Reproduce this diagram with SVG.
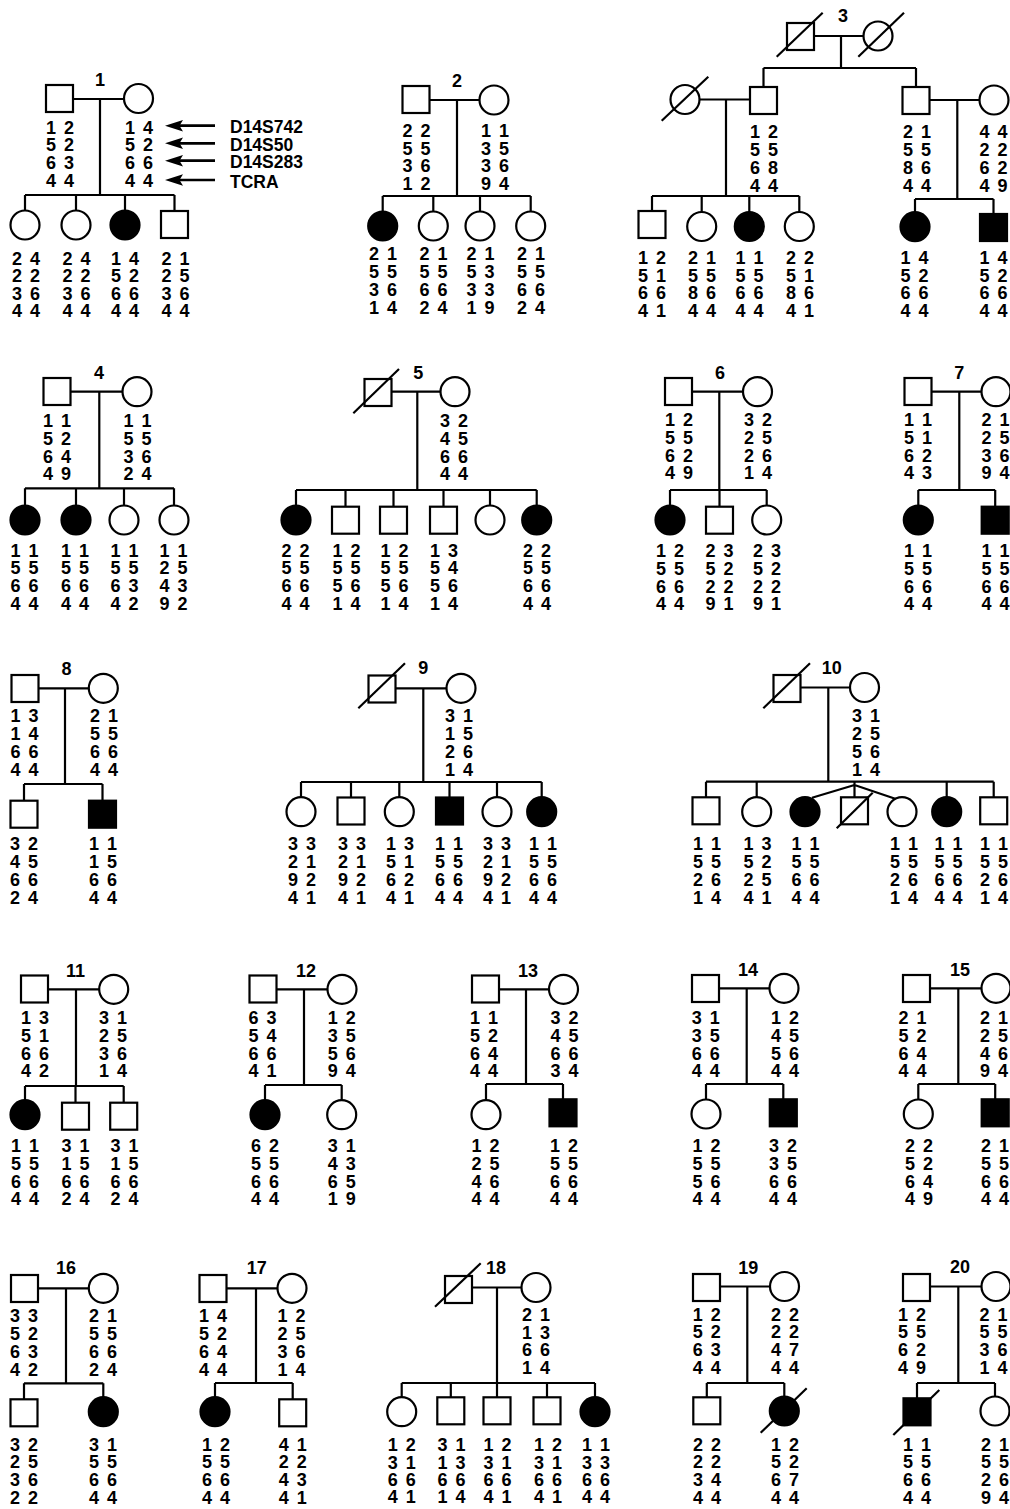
<svg xmlns="http://www.w3.org/2000/svg" width="1010" height="1509" viewBox="0 0 1010 1509">
<style>
.ln{stroke:#000;stroke-width:2.2;fill:none}
.o{fill:#fff;stroke:#000;stroke-width:2.2}
.f{fill:#000;stroke:#000;stroke-width:2.2}
.ar{stroke:#000;stroke-width:2.7;fill:none}
text{font-family:"Liberation Sans",Arial,Helvetica,sans-serif;font-weight:bold;font-size:18px;fill:#000}
.g{text-anchor:middle;word-spacing:3px}
.n{text-anchor:middle}
.lab{text-anchor:start;font-size:17.5px}
</style>
<defs>
<marker id="ah" markerUnits="userSpaceOnUse" markerWidth="20" markerHeight="12" viewBox="0 0 20 12" refX="11" refY="6" orient="auto"><path d="M18,6 L0,0.3 L3.5,6 L0,11.7 Z" fill="#000"/></marker>
</defs>
<rect width="1010" height="1509" fill="#fff"/>

<g id="connectors" class="ln">
<!-- 1 -->
<path d="M73,99H124M100,99V195M25,195H174.5M25,195V210.5M76,195V210.5M125,195V210.5M174.5,195V211"/>
<!-- 2 -->
<path d="M429.5,100H479.5M457,100V196M382.7,196H530.7M382.7,196V211.5M433.3,196V211.5M480,196V211.5M530.7,196V211.5"/>
<!-- 3 -->
<path d="M814,36H863.5M841,36V68M763.5,68H916M763.5,68V87M916,68V87M699.5,99.5H750M726,99.5V196M652,196H799.3M652,196V211M701.7,196V212M749.3,196V212M799.3,196V212M929.5,100H979.5M957.3,100V199M915,199H993.5M915,199V212.2M993.5,199V214"/>
<!-- 4 -->
<path d="M70.5,391.7H122.5M99.3,391.7V488.3M25,488.3H174M25,488.3V505.5M76,488.3V505.5M124,488.3V505.5M174,488.3V505.5"/>
<!-- 5 -->
<path d="M391.5,391.7H440.5M417.3,391.7V490M296,490H536.7M296,490V505.5M345.5,490V506.7M393.5,490V506.7M443.5,490V506.7M490,490V505.5M536.7,490V505.5"/>
<!-- 6 -->
<path d="M692,391.7H743M719.3,391.7V490M670,490H766.7M670,490V505.5M719.5,490V506.7M766.7,490V505.5"/>
<!-- 7 -->
<path d="M931.5,391.7H981.5M959.3,391.7V490M918.3,490H995.2M918.3,490V505.5M995.2,490V506.7"/>
<!-- 8 -->
<path d="M38.5,688.3H89M65,688.3V784M24,784H102.5M24,784V800.7M102.5,784V800.7"/>
<!-- 9 -->
<path d="M395.5,688.3H446.5M423.3,688.3V782M301,782H541.7M301,782V797.2M351,782V797.5M399.3,782V797.2M449.5,782V797.5M497,782V797.2M541.7,782V797.2"/>
<!-- 10 -->
<path d="M800.5,687.5H850M828.3,687.5V781.7M706,781.7H993.7M706,781.7V797.3M756.7,781.7V797.2M854.5,781.7V785M946.7,781.7V797.2M993.7,781.7V797.3M854.5,785L812,797.8M854.5,785V797.3M854.5,785L896,799"/>
<!-- 11 -->
<path d="M48,989.3H99.2M76,989.3V1086M25,1086H123.7M25,1086V1100.2M75.5,1086V1102.7M123.7,1086V1102.7"/>
<!-- 12 -->
<path d="M276.5,989.3H327.5M304,989.3V1085M265,1085H341.7M265,1085V1100.2M341.7,1085V1100.2"/>
<!-- 13 -->
<path d="M499,989.3H549M526,989.3V1084M486,1084H563M486,1084V1100.2M563,1084V1099.3"/>
<!-- 14 -->
<path d="M719,988.3H769.5M746.7,988.3V1084M706,1084H783.3M706,1084V1099.5M783.3,1084V1099.3"/>
<!-- 15 -->
<path d="M930,988.3H981.5M958.3,988.3V1084M918.3,1084H995.2M918.3,1084V1099.5M995.2,1084V1099.3"/>
<!-- 16 -->
<path d="M38.5,1288.3H89M66,1288.3V1383.3M24,1383.3H103.3M24,1383.3V1399.3M103.3,1383.3V1397.2"/>
<!-- 17 -->
<path d="M226.5,1288.3H277.5M256,1288.3V1383M215,1383H292.7M215,1383V1397.2M292.7,1383V1399.3"/>
<!-- 18 -->
<path d="M472,1287.5H521.5M497,1287.5V1383M401.7,1383H595M401.7,1383V1397.2M450.8,1383V1397.3M497,1383V1397.3M547,1383V1397.3M595,1383V1397.2"/>
<!-- 19 -->
<path d="M720,1286.5H770M747.3,1286.5V1383M706.8,1383H784.3M706.8,1383V1397.3M784.3,1383V1396.5"/>
<!-- 20 -->
<path d="M930,1286.5H981.5M958.3,1286.5V1383M917,1383H995M917,1383V1398.3M995,1383V1396.5"/>
</g>

<g id="locus-arrows" class="ar">
<path d="M215,125.7H172" marker-end="url(#ah)"/>
<path d="M215,143.3H172" marker-end="url(#ah)"/>
<path d="M215,160.7H172" marker-end="url(#ah)"/>
<path d="M215,180H172" marker-end="url(#ah)"/>
</g>
<g id="locus-labels">
<text class="lab" x="230" y="133">D14S742</text>
<text class="lab" x="230" y="150.5">D14S50</text>
<text class="lab" x="230" y="168">D14S283</text>
<text class="lab" x="230" y="188">TCRA</text>
</g>

<g id="family-numbers">
<text class="n" x="100" y="85.5">1</text>
<text class="n" x="457" y="87">2</text>
<text class="n" x="843" y="22">3</text>
<text class="n" x="99" y="379">4</text>
<text class="n" x="418.3" y="379">5</text>
<text class="n" x="720" y="379">6</text>
<text class="n" x="959.3" y="379">7</text>
<text class="n" x="66.5" y="674.5">8</text>
<text class="n" x="423.3" y="674">9</text>
<text class="n" x="831.7" y="674">10</text>
<text class="n" x="75.5" y="976.5">11</text>
<text class="n" x="306" y="976.5">12</text>
<text class="n" x="528" y="976.5">13</text>
<text class="n" x="748" y="975.5">14</text>
<text class="n" x="960" y="975.5">15</text>
<text class="n" x="66" y="1274">16</text>
<text class="n" x="256.7" y="1274">17</text>
<text class="n" x="496" y="1273.5">18</text>
<text class="n" x="748.3" y="1274">19</text>
<text class="n" x="960" y="1273">20</text>
</g>

<!-- Family 1 -->
<g id="f1-father"><rect class="o" x="46" y="85" width="27" height="27"/><text class="g" y="133.5"><tspan x="60">1 2</tspan><tspan x="60" dy="17.8">5 2</tspan><tspan x="60" dy="17.8">6 3</tspan><tspan x="60" dy="17.8">4 4</tspan></text></g>
<g id="f1-mother"><circle class="o" cx="138.5" cy="98.5" r="14.5"/><text class="g" y="133.5"><tspan x="139">1 4</tspan><tspan x="139" dy="17.8">5 2</tspan><tspan x="139" dy="17.8">6 6</tspan><tspan x="139" dy="17.8">4 4</tspan></text></g>
<g id="f1-c1"><circle class="o" cx="25" cy="225" r="14.5"/><text class="g" y="265"><tspan x="26">2 4</tspan><tspan x="26" dy="17.3">2 2</tspan><tspan x="26" dy="17.3">3 6</tspan><tspan x="26" dy="17.3">4 4</tspan></text></g>
<g id="f1-c2"><circle class="o" cx="76" cy="225" r="14.5"/><text class="g" y="265"><tspan x="76.5">2 4</tspan><tspan x="76.5" dy="17.3">2 2</tspan><tspan x="76.5" dy="17.3">3 6</tspan><tspan x="76.5" dy="17.3">4 4</tspan></text></g>
<g id="f1-c3"><circle class="f" cx="125" cy="225" r="14.5"/><text class="g" y="265"><tspan x="125">1 4</tspan><tspan x="125" dy="17.3">5 2</tspan><tspan x="125" dy="17.3">6 6</tspan><tspan x="125" dy="17.3">4 4</tspan></text></g>
<g id="f1-c4"><rect class="o" x="161" y="211" width="27" height="27"/><text class="g" y="265"><tspan x="175.5">2 1</tspan><tspan x="175.5" dy="17.3">2 5</tspan><tspan x="175.5" dy="17.3">3 6</tspan><tspan x="175.5" dy="17.3">4 4</tspan></text></g>

<!-- Family 2 -->
<g id="f2-father"><rect class="o" x="402.5" y="86" width="27" height="27"/><text class="g" y="136.8"><tspan x="416.5">2 2</tspan><tspan x="416.5" dy="17.8">5 5</tspan><tspan x="416.5" dy="17.8">3 6</tspan><tspan x="416.5" dy="17.8">1 2</tspan></text></g>
<g id="f2-mother"><circle class="o" cx="494" cy="100" r="14.5"/><text class="g" y="136.8"><tspan x="495">1 1</tspan><tspan x="495" dy="17.8">3 5</tspan><tspan x="495" dy="17.8">3 6</tspan><tspan x="495" dy="17.8">9 4</tspan></text></g>
<g id="f2-c1"><circle class="f" cx="382.7" cy="226" r="14.5"/><text class="g" y="260.4"><tspan x="383">2 1</tspan><tspan x="383" dy="17.8">5 5</tspan><tspan x="383" dy="17.8">3 6</tspan><tspan x="383" dy="17.8">1 4</tspan></text></g>
<g id="f2-c2"><circle class="o" cx="433.3" cy="226" r="14.5"/><text class="g" y="260.4"><tspan x="433.5">2 1</tspan><tspan x="433.5" dy="17.8">5 5</tspan><tspan x="433.5" dy="17.8">6 6</tspan><tspan x="433.5" dy="17.8">2 4</tspan></text></g>
<g id="f2-c3"><circle class="o" cx="480" cy="226" r="14.5"/><text class="g" y="260.4"><tspan x="480.5">2 1</tspan><tspan x="480.5" dy="17.8">5 3</tspan><tspan x="480.5" dy="17.8">3 3</tspan><tspan x="480.5" dy="17.8">1 9</tspan></text></g>
<g id="f2-c4"><circle class="o" cx="530.7" cy="226" r="14.5"/><text class="g" y="260.4"><tspan x="531">2 1</tspan><tspan x="531" dy="17.8">5 5</tspan><tspan x="531" dy="17.8">6 6</tspan><tspan x="531" dy="17.8">2 4</tspan></text></g>

<!-- Family 3 -->
<g id="f3-I1"><rect class="o" x="787" y="23" width="27" height="27"/><line class="ln" x1="776.7" y1="56.7" x2="822.7" y2="12.7"/></g>
<g id="f3-I2"><circle class="o" cx="878" cy="36" r="14.5"/><line class="ln" x1="858.3" y1="56.7" x2="904" y2="12.7"/></g>
<g id="f3-II1"><circle class="o" cx="685" cy="99.5" r="14.5"/><line class="ln" x1="661.7" y1="120.7" x2="708.3" y2="76.7"/></g>
<g id="f3-II2"><rect class="o" x="750" y="87" width="27" height="27"/><text class="g" y="138.4"><tspan x="764">1 2</tspan><tspan x="764" dy="17.8">5 5</tspan><tspan x="764" dy="17.8">6 8</tspan><tspan x="764" dy="17.8">4 4</tspan></text></g>
<g id="f3-II3"><rect class="o" x="902.5" y="87" width="27" height="27"/><text class="g" y="138.4"><tspan x="917">2 1</tspan><tspan x="917" dy="17.8">5 5</tspan><tspan x="917" dy="17.8">8 6</tspan><tspan x="917" dy="17.8">4 4</tspan></text></g>
<g id="f3-II4"><circle class="o" cx="994" cy="100" r="14.5"/><text class="g" y="138.4"><tspan x="993.5">4 4</tspan><tspan x="993.5" dy="17.8">2 2</tspan><tspan x="993.5" dy="17.8">6 2</tspan><tspan x="993.5" dy="17.8">4 9</tspan></text></g>
<g id="f3-III1"><rect class="o" x="638.5" y="211" width="27" height="27"/><text class="g" y="264"><tspan x="652">1 2</tspan><tspan x="652" dy="17.5">5 1</tspan><tspan x="652" dy="17.5">6 6</tspan><tspan x="652" dy="17.5">4 1</tspan></text></g>
<g id="f3-III2"><circle class="o" cx="701.7" cy="226.5" r="14.5"/><text class="g" y="264"><tspan x="702">2 1</tspan><tspan x="702" dy="17.5">5 5</tspan><tspan x="702" dy="17.5">8 6</tspan><tspan x="702" dy="17.5">4 4</tspan></text></g>
<g id="f3-III3"><circle class="f" cx="749.3" cy="226.5" r="14.5"/><text class="g" y="264"><tspan x="749.5">1 1</tspan><tspan x="749.5" dy="17.5">5 5</tspan><tspan x="749.5" dy="17.5">6 6</tspan><tspan x="749.5" dy="17.5">4 4</tspan></text></g>
<g id="f3-III4"><circle class="o" cx="799.3" cy="226.5" r="14.5"/><text class="g" y="264"><tspan x="800">2 2</tspan><tspan x="800" dy="17.5">5 1</tspan><tspan x="800" dy="17.5">8 6</tspan><tspan x="800" dy="17.5">4 1</tspan></text></g>
<g id="f3-III5"><circle class="f" cx="915" cy="226.7" r="14.5"/><text class="g" y="264"><tspan x="914.5">1 4</tspan><tspan x="914.5" dy="17.5">5 2</tspan><tspan x="914.5" dy="17.5">6 6</tspan><tspan x="914.5" dy="17.5">4 4</tspan></text></g>
<g id="f3-III6"><rect class="f" x="980" y="214" width="27" height="27"/><text class="g" y="264"><tspan x="993.5">1 4</tspan><tspan x="993.5" dy="17.5">5 2</tspan><tspan x="993.5" dy="17.5">6 6</tspan><tspan x="993.5" dy="17.5">4 4</tspan></text></g>

<!-- Family 4 -->
<g id="f4-father"><rect class="o" x="43.5" y="378" width="27" height="27"/><text class="g" y="427"><tspan x="57">1 1</tspan><tspan x="57" dy="17.8">5 2</tspan><tspan x="57" dy="17.8">6 4</tspan><tspan x="57" dy="17.8">4 9</tspan></text></g>
<g id="f4-mother"><circle class="o" cx="137" cy="391.7" r="14.5"/><text class="g" y="427"><tspan x="137.5">1 1</tspan><tspan x="137.5" dy="17.8">5 5</tspan><tspan x="137.5" dy="17.8">3 6</tspan><tspan x="137.5" dy="17.8">2 4</tspan></text></g>
<g id="f4-c1"><circle class="f" cx="25" cy="520" r="14.5"/><text class="g" y="556.5"><tspan x="24.5">1 1</tspan><tspan x="24.5" dy="17.8">5 5</tspan><tspan x="24.5" dy="17.8">6 6</tspan><tspan x="24.5" dy="17.8">4 4</tspan></text></g>
<g id="f4-c2"><circle class="f" cx="76" cy="520" r="14.5"/><text class="g" y="556.5"><tspan x="75">1 1</tspan><tspan x="75" dy="17.8">5 5</tspan><tspan x="75" dy="17.8">6 6</tspan><tspan x="75" dy="17.8">4 4</tspan></text></g>
<g id="f4-c3"><circle class="o" cx="124" cy="520" r="14.5"/><text class="g" y="556.5"><tspan x="124.5">1 1</tspan><tspan x="124.5" dy="17.8">5 5</tspan><tspan x="124.5" dy="17.8">6 3</tspan><tspan x="124.5" dy="17.8">4 2</tspan></text></g>
<g id="f4-c4"><circle class="o" cx="174" cy="520" r="14.5"/><text class="g" y="556.5"><tspan x="173.5">1 1</tspan><tspan x="173.5" dy="17.8">2 5</tspan><tspan x="173.5" dy="17.8">4 3</tspan><tspan x="173.5" dy="17.8">9 2</tspan></text></g>

<!-- Family 5 -->
<g id="f5-father"><rect class="o" x="364.5" y="379" width="27" height="27"/><line class="ln" x1="353.3" y1="413.3" x2="399" y2="369"/></g>
<g id="f5-mother"><circle class="o" cx="455" cy="391.7" r="14.5"/><text class="g" y="427"><tspan x="454">3 2</tspan><tspan x="454" dy="17.8">4 5</tspan><tspan x="454" dy="17.8">6 6</tspan><tspan x="454" dy="17.8">4 4</tspan></text></g>
<g id="f5-c1"><circle class="f" cx="296" cy="520" r="14.5"/><text class="g" y="556.5"><tspan x="295.5">2 2</tspan><tspan x="295.5" dy="17.8">5 5</tspan><tspan x="295.5" dy="17.8">6 6</tspan><tspan x="295.5" dy="17.8">4 4</tspan></text></g>
<g id="f5-c2"><rect class="o" x="332" y="506.7" width="27" height="27"/><text class="g" y="556.5"><tspan x="346.5">1 2</tspan><tspan x="346.5" dy="17.8">5 5</tspan><tspan x="346.5" dy="17.8">5 6</tspan><tspan x="346.5" dy="17.8">1 4</tspan></text></g>
<g id="f5-c3"><rect class="o" x="380" y="506.7" width="27" height="27"/><text class="g" y="556.5"><tspan x="394.5">1 2</tspan><tspan x="394.5" dy="17.8">5 5</tspan><tspan x="394.5" dy="17.8">5 6</tspan><tspan x="394.5" dy="17.8">1 4</tspan></text></g>
<g id="f5-c4"><rect class="o" x="430" y="506.7" width="27" height="27"/><text class="g" y="556.5"><tspan x="444">1 3</tspan><tspan x="444" dy="17.8">5 4</tspan><tspan x="444" dy="17.8">5 6</tspan><tspan x="444" dy="17.8">1 4</tspan></text></g>
<g id="f5-c5"><circle class="o" cx="490" cy="520" r="14.5"/></g>
<g id="f5-c6"><circle class="f" cx="536.7" cy="520" r="14.5"/><text class="g" y="556.5"><tspan x="537">2 2</tspan><tspan x="537" dy="17.8">5 5</tspan><tspan x="537" dy="17.8">6 6</tspan><tspan x="537" dy="17.8">4 4</tspan></text></g>

<!-- Family 6 -->
<g id="f6-father"><rect class="o" x="665" y="378" width="27" height="27"/><text class="g" y="426"><tspan x="679">1 2</tspan><tspan x="679" dy="17.8">5 5</tspan><tspan x="679" dy="17.8">6 2</tspan><tspan x="679" dy="17.8">4 9</tspan></text></g>
<g id="f6-mother"><circle class="o" cx="757.5" cy="391.7" r="14.5"/><text class="g" y="426"><tspan x="758">3 2</tspan><tspan x="758" dy="17.8">2 5</tspan><tspan x="758" dy="17.8">2 6</tspan><tspan x="758" dy="17.8">1 4</tspan></text></g>
<g id="f6-c1"><circle class="f" cx="670" cy="520" r="14.5"/><text class="g" y="557"><tspan x="670">1 2</tspan><tspan x="670" dy="17.8">5 5</tspan><tspan x="670" dy="17.8">6 6</tspan><tspan x="670" dy="17.8">4 4</tspan></text></g>
<g id="f6-c2"><rect class="o" x="706" y="506.7" width="27" height="27"/><text class="g" y="557"><tspan x="719.5">2 3</tspan><tspan x="719.5" dy="17.8">5 2</tspan><tspan x="719.5" dy="17.8">2 2</tspan><tspan x="719.5" dy="17.8">9 1</tspan></text></g>
<g id="f6-c3"><circle class="o" cx="766.7" cy="520" r="14.5"/><text class="g" y="557"><tspan x="767">2 3</tspan><tspan x="767" dy="17.8">5 2</tspan><tspan x="767" dy="17.8">2 2</tspan><tspan x="767" dy="17.8">9 1</tspan></text></g>

<!-- Family 7 -->
<g id="f7-father"><rect class="o" x="904.5" y="378" width="27" height="27"/><text class="g" y="426"><tspan x="918">1 1</tspan><tspan x="918" dy="17.8">5 1</tspan><tspan x="918" dy="17.8">6 2</tspan><tspan x="918" dy="17.8">4 3</tspan></text></g>
<g id="f7-mother"><circle class="o" cx="996" cy="391.7" r="14.5"/><text class="g" y="426"><tspan x="995.5">2 1</tspan><tspan x="995.5" dy="17.8">2 5</tspan><tspan x="995.5" dy="17.8">3 6</tspan><tspan x="995.5" dy="17.8">9 4</tspan></text></g>
<g id="f7-c1"><circle class="f" cx="918.3" cy="520" r="14.5"/><text class="g" y="557"><tspan x="918">1 1</tspan><tspan x="918" dy="17.8">5 5</tspan><tspan x="918" dy="17.8">6 6</tspan><tspan x="918" dy="17.8">4 4</tspan></text></g>
<g id="f7-c2"><rect class="f" x="981.7" y="506.7" width="27" height="27"/><text class="g" y="557"><tspan x="995.5">1 1</tspan><tspan x="995.5" dy="17.8">5 5</tspan><tspan x="995.5" dy="17.8">6 6</tspan><tspan x="995.5" dy="17.8">4 4</tspan></text></g>

<!-- Family 8 -->
<g id="f8-father"><rect class="o" x="11.5" y="675" width="27" height="27"/><text class="g" y="722.2"><tspan x="24.5">1 3</tspan><tspan x="24.5" dy="17.8">1 4</tspan><tspan x="24.5" dy="17.8">6 6</tspan><tspan x="24.5" dy="17.8">4 4</tspan></text></g>
<g id="f8-mother"><circle class="o" cx="103.3" cy="688.3" r="14.5"/><text class="g" y="722.2"><tspan x="104">2 1</tspan><tspan x="104" dy="17.8">5 5</tspan><tspan x="104" dy="17.8">6 6</tspan><tspan x="104" dy="17.8">4 4</tspan></text></g>
<g id="f8-c1"><rect class="o" x="10.5" y="800.7" width="27" height="27"/><text class="g" y="850.3"><tspan x="24">3 2</tspan><tspan x="24" dy="17.8">4 5</tspan><tspan x="24" dy="17.8">6 6</tspan><tspan x="24" dy="17.8">2 4</tspan></text></g>
<g id="f8-c2"><rect class="f" x="89" y="800.7" width="27" height="27"/><text class="g" y="850.3"><tspan x="103">1 1</tspan><tspan x="103" dy="17.8">1 5</tspan><tspan x="103" dy="17.8">6 6</tspan><tspan x="103" dy="17.8">4 4</tspan></text></g>

<!-- Family 9 -->
<g id="f9-father"><rect class="o" x="368.5" y="675.5" width="27" height="27"/><line class="ln" x1="358.3" y1="708.3" x2="405" y2="663.3"/></g>
<g id="f9-mother"><circle class="o" cx="461" cy="688.3" r="14.5"/><text class="g" y="722.2"><tspan x="459">3 1</tspan><tspan x="459" dy="17.8">1 5</tspan><tspan x="459" dy="17.8">2 6</tspan><tspan x="459" dy="17.8">1 4</tspan></text></g>
<g id="f9-c1"><circle class="o" cx="301" cy="811.7" r="14.5"/><text class="g" y="850.3"><tspan x="302">3 3</tspan><tspan x="302" dy="17.8">2 1</tspan><tspan x="302" dy="17.8">9 2</tspan><tspan x="302" dy="17.8">4 1</tspan></text></g>
<g id="f9-c2"><rect class="o" x="337.5" y="797.5" width="27" height="27"/><text class="g" y="850.3"><tspan x="352">3 3</tspan><tspan x="352" dy="17.8">2 1</tspan><tspan x="352" dy="17.8">9 2</tspan><tspan x="352" dy="17.8">4 1</tspan></text></g>
<g id="f9-c3"><circle class="o" cx="399.3" cy="811.7" r="14.5"/><text class="g" y="850.3"><tspan x="400">1 3</tspan><tspan x="400" dy="17.8">5 1</tspan><tspan x="400" dy="17.8">6 2</tspan><tspan x="400" dy="17.8">4 1</tspan></text></g>
<g id="f9-c4"><rect class="f" x="436" y="797.5" width="27" height="27"/><text class="g" y="850.3"><tspan x="449">1 1</tspan><tspan x="449" dy="17.8">5 5</tspan><tspan x="449" dy="17.8">6 6</tspan><tspan x="449" dy="17.8">4 4</tspan></text></g>
<g id="f9-c5"><circle class="o" cx="497" cy="811.7" r="14.5"/><text class="g" y="850.3"><tspan x="497">3 3</tspan><tspan x="497" dy="17.8">2 1</tspan><tspan x="497" dy="17.8">9 2</tspan><tspan x="497" dy="17.8">4 1</tspan></text></g>
<g id="f9-c6"><circle class="f" cx="541.7" cy="811.7" r="14.5"/><text class="g" y="850.3"><tspan x="543">1 1</tspan><tspan x="543" dy="17.8">5 5</tspan><tspan x="543" dy="17.8">6 6</tspan><tspan x="543" dy="17.8">4 4</tspan></text></g>

<!-- Family 10 -->
<g id="f10-father"><rect class="o" x="773.5" y="675" width="27" height="27"/><line class="ln" x1="763.3" y1="708.3" x2="810" y2="663.3"/></g>
<g id="f10-mother"><circle class="o" cx="864.5" cy="687.5" r="14.5"/><text class="g" y="722.2"><tspan x="866">3 1</tspan><tspan x="866" dy="17.8">2 5</tspan><tspan x="866" dy="17.8">5 6</tspan><tspan x="866" dy="17.8">1 4</tspan></text></g>
<g id="f10-c1"><rect class="o" x="692.5" y="797.3" width="27" height="27"/><text class="g" y="850.3"><tspan x="707">1 1</tspan><tspan x="707" dy="17.8">5 5</tspan><tspan x="707" dy="17.8">2 6</tspan><tspan x="707" dy="17.8">1 4</tspan></text></g>
<g id="f10-c2"><circle class="o" cx="756.7" cy="811.7" r="14.5"/><text class="g" y="850.3"><tspan x="757.5">1 3</tspan><tspan x="757.5" dy="17.8">5 2</tspan><tspan x="757.5" dy="17.8">2 5</tspan><tspan x="757.5" dy="17.8">4 1</tspan></text></g>
<g id="f10-c3"><circle class="f" cx="805" cy="811.7" r="14.5"/><text class="g" y="850.3"><tspan x="805.5">1 1</tspan><tspan x="805.5" dy="17.8">5 5</tspan><tspan x="805.5" dy="17.8">6 6</tspan><tspan x="805.5" dy="17.8">4 4</tspan></text></g>
<g id="f10-c4"><rect class="o" x="841" y="797.3" width="27" height="27"/><line class="ln" x1="836.7" y1="828.3" x2="872.7" y2="792.7"/></g>
<g id="f10-c5"><circle class="o" cx="902" cy="811.7" r="14.5"/><text class="g" y="850.3"><tspan x="904">1 1</tspan><tspan x="904" dy="17.8">5 5</tspan><tspan x="904" dy="17.8">2 6</tspan><tspan x="904" dy="17.8">1 4</tspan></text></g>
<g id="f10-c6"><circle class="f" cx="946.7" cy="811.7" r="14.5"/><text class="g" y="850.3"><tspan x="948.5">1 1</tspan><tspan x="948.5" dy="17.8">5 5</tspan><tspan x="948.5" dy="17.8">6 6</tspan><tspan x="948.5" dy="17.8">4 4</tspan></text></g>
<g id="f10-c7"><rect class="o" x="980.2" y="797.3" width="27" height="27"/><text class="g" y="850.3"><tspan x="994">1 1</tspan><tspan x="994" dy="17.8">5 5</tspan><tspan x="994" dy="17.8">2 6</tspan><tspan x="994" dy="17.8">1 4</tspan></text></g>

<!-- Family 11 -->
<g id="f11-father"><rect class="o" x="21" y="975.5" width="27" height="27"/><text class="g" y="1024"><tspan x="35">1 3</tspan><tspan x="35" dy="17.8">5 1</tspan><tspan x="35" dy="17.8">6 6</tspan><tspan x="35" dy="17.8">4 2</tspan></text></g>
<g id="f11-mother"><circle class="o" cx="113.7" cy="989.3" r="14.5"/><text class="g" y="1024"><tspan x="113">3 1</tspan><tspan x="113" dy="17.8">2 5</tspan><tspan x="113" dy="17.8">3 6</tspan><tspan x="113" dy="17.8">1 4</tspan></text></g>
<g id="f11-c1"><circle class="f" cx="25" cy="1114.7" r="14.5"/><text class="g" y="1152"><tspan x="25">1 1</tspan><tspan x="25" dy="17.8">5 5</tspan><tspan x="25" dy="17.8">6 6</tspan><tspan x="25" dy="17.8">4 4</tspan></text></g>
<g id="f11-c2"><rect class="o" x="62" y="1102.7" width="27" height="27"/><text class="g" y="1152"><tspan x="75.5">3 1</tspan><tspan x="75.5" dy="17.8">1 5</tspan><tspan x="75.5" dy="17.8">6 6</tspan><tspan x="75.5" dy="17.8">2 4</tspan></text></g>
<g id="f11-c3"><rect class="o" x="110.2" y="1102.7" width="27" height="27"/><text class="g" y="1152"><tspan x="124.5">3 1</tspan><tspan x="124.5" dy="17.8">1 5</tspan><tspan x="124.5" dy="17.8">6 6</tspan><tspan x="124.5" dy="17.8">2 4</tspan></text></g>

<!-- Family 12 -->
<g id="f12-father"><rect class="o" x="249.5" y="975.5" width="27" height="27"/><text class="g" y="1024"><tspan x="262.5">6 3</tspan><tspan x="262.5" dy="17.8">5 4</tspan><tspan x="262.5" dy="17.8">6 6</tspan><tspan x="262.5" dy="17.8">4 1</tspan></text></g>
<g id="f12-mother"><circle class="o" cx="342" cy="989.3" r="14.5"/><text class="g" y="1024"><tspan x="341.7">1 2</tspan><tspan x="341.7" dy="17.8">3 5</tspan><tspan x="341.7" dy="17.8">5 6</tspan><tspan x="341.7" dy="17.8">9 4</tspan></text></g>
<g id="f12-c1"><circle class="f" cx="265" cy="1114.7" r="14.5"/><text class="g" y="1152"><tspan x="265">6 2</tspan><tspan x="265" dy="17.8">5 5</tspan><tspan x="265" dy="17.8">6 6</tspan><tspan x="265" dy="17.8">4 4</tspan></text></g>
<g id="f12-c2"><circle class="o" cx="341.7" cy="1114.7" r="14.5"/><text class="g" y="1152"><tspan x="341.7">3 1</tspan><tspan x="341.7" dy="17.8">4 3</tspan><tspan x="341.7" dy="17.8">6 5</tspan><tspan x="341.7" dy="17.8">1 9</tspan></text></g>

<!-- Family 13 -->
<g id="f13-father"><rect class="o" x="472" y="975.5" width="27" height="27"/><text class="g" y="1024"><tspan x="484">1 1</tspan><tspan x="484" dy="17.8">5 2</tspan><tspan x="484" dy="17.8">6 4</tspan><tspan x="484" dy="17.8">4 4</tspan></text></g>
<g id="f13-mother"><circle class="o" cx="563.5" cy="989.3" r="14.5"/><text class="g" y="1024"><tspan x="564.5">3 2</tspan><tspan x="564.5" dy="17.8">4 5</tspan><tspan x="564.5" dy="17.8">6 6</tspan><tspan x="564.5" dy="17.8">3 4</tspan></text></g>
<g id="f13-c1"><circle class="o" cx="486" cy="1114.7" r="14.5"/><text class="g" y="1152"><tspan x="485.5">1 2</tspan><tspan x="485.5" dy="17.8">2 5</tspan><tspan x="485.5" dy="17.8">4 6</tspan><tspan x="485.5" dy="17.8">4 4</tspan></text></g>
<g id="f13-c2"><rect class="f" x="549.5" y="1099.3" width="27" height="27"/><text class="g" y="1152"><tspan x="564">1 2</tspan><tspan x="564" dy="17.8">5 5</tspan><tspan x="564" dy="17.8">6 6</tspan><tspan x="564" dy="17.8">4 4</tspan></text></g>

<!-- Family 14 -->
<g id="f14-father"><rect class="o" x="692" y="975" width="27" height="27"/><text class="g" y="1024"><tspan x="705.8">3 1</tspan><tspan x="705.8" dy="17.8">3 5</tspan><tspan x="705.8" dy="17.8">6 6</tspan><tspan x="705.8" dy="17.8">4 4</tspan></text></g>
<g id="f14-mother"><circle class="o" cx="784" cy="988.3" r="14.5"/><text class="g" y="1024"><tspan x="785">1 2</tspan><tspan x="785" dy="17.8">4 5</tspan><tspan x="785" dy="17.8">5 6</tspan><tspan x="785" dy="17.8">4 4</tspan></text></g>
<g id="f14-c1"><circle class="o" cx="706" cy="1114" r="14.5"/><text class="g" y="1152"><tspan x="706.5">1 2</tspan><tspan x="706.5" dy="17.8">5 5</tspan><tspan x="706.5" dy="17.8">5 6</tspan><tspan x="706.5" dy="17.8">4 4</tspan></text></g>
<g id="f14-c2"><rect class="f" x="769.8" y="1099.3" width="27" height="27"/><text class="g" y="1152"><tspan x="783">3 2</tspan><tspan x="783" dy="17.8">3 5</tspan><tspan x="783" dy="17.8">6 6</tspan><tspan x="783" dy="17.8">4 4</tspan></text></g>

<!-- Family 15 -->
<g id="f15-father"><rect class="o" x="903" y="975" width="27" height="27"/><text class="g" y="1024"><tspan x="912.5">2 1</tspan><tspan x="912.5" dy="17.8">5 2</tspan><tspan x="912.5" dy="17.8">6 4</tspan><tspan x="912.5" dy="17.8">4 4</tspan></text></g>
<g id="f15-mother"><circle class="o" cx="996" cy="988.3" r="14.5"/><text class="g" y="1024"><tspan x="994">2 1</tspan><tspan x="994" dy="17.8">2 5</tspan><tspan x="994" dy="17.8">4 6</tspan><tspan x="994" dy="17.8">9 4</tspan></text></g>
<g id="f15-c1"><circle class="o" cx="918.3" cy="1114" r="14.5"/><text class="g" y="1152"><tspan x="919">2 2</tspan><tspan x="919" dy="17.8">5 2</tspan><tspan x="919" dy="17.8">6 4</tspan><tspan x="919" dy="17.8">4 9</tspan></text></g>
<g id="f15-c2"><rect class="f" x="981.7" y="1099.3" width="27" height="27"/><text class="g" y="1152"><tspan x="995">2 1</tspan><tspan x="995" dy="17.8">5 5</tspan><tspan x="995" dy="17.8">6 6</tspan><tspan x="995" dy="17.8">4 4</tspan></text></g>

<!-- Family 16 -->
<g id="f16-father"><rect class="o" x="11" y="1275" width="27" height="27"/><text class="g" y="1322"><tspan x="24">3 3</tspan><tspan x="24" dy="17.9">5 2</tspan><tspan x="24" dy="17.9">6 3</tspan><tspan x="24" dy="17.9">4 2</tspan></text></g>
<g id="f16-mother"><circle class="o" cx="103.3" cy="1288.3" r="14.5"/><text class="g" y="1322"><tspan x="103">2 1</tspan><tspan x="103" dy="17.9">5 5</tspan><tspan x="103" dy="17.9">6 6</tspan><tspan x="103" dy="17.9">2 4</tspan></text></g>
<g id="f16-c1"><rect class="o" x="10.5" y="1399.3" width="27" height="27"/><text class="g" y="1450.5"><tspan x="24">3 2</tspan><tspan x="24" dy="17.8">2 5</tspan><tspan x="24" dy="17.8">3 6</tspan><tspan x="24" dy="17.8">2 2</tspan></text></g>
<g id="f16-c2"><circle class="f" cx="103.3" cy="1411.7" r="14.5"/><text class="g" y="1450.5"><tspan x="103">3 1</tspan><tspan x="103" dy="17.8">5 5</tspan><tspan x="103" dy="17.8">6 6</tspan><tspan x="103" dy="17.8">4 4</tspan></text></g>

<!-- Family 17 -->
<g id="f17-father"><rect class="o" x="199.5" y="1275" width="27" height="27"/><text class="g" y="1322"><tspan x="213">1 4</tspan><tspan x="213" dy="17.9">5 2</tspan><tspan x="213" dy="17.9">6 4</tspan><tspan x="213" dy="17.9">4 4</tspan></text></g>
<g id="f17-mother"><circle class="o" cx="292" cy="1288.3" r="14.5"/><text class="g" y="1322"><tspan x="291.5">1 2</tspan><tspan x="291.5" dy="17.9">2 5</tspan><tspan x="291.5" dy="17.9">3 6</tspan><tspan x="291.5" dy="17.9">1 4</tspan></text></g>
<g id="f17-c1"><circle class="f" cx="215" cy="1411.7" r="14.5"/><text class="g" y="1450.5"><tspan x="216">1 2</tspan><tspan x="216" dy="17.8">5 5</tspan><tspan x="216" dy="17.8">6 6</tspan><tspan x="216" dy="17.8">4 4</tspan></text></g>
<g id="f17-c2"><rect class="o" x="279.2" y="1399.3" width="27" height="27"/><text class="g" y="1450.5"><tspan x="292.7">4 1</tspan><tspan x="292.7" dy="17.8">2 2</tspan><tspan x="292.7" dy="17.8">4 3</tspan><tspan x="292.7" dy="17.8">4 1</tspan></text></g>

<!-- Family 18 -->
<g id="f18-father"><rect class="o" x="445" y="1276" width="27" height="27"/><line class="ln" x1="435" y1="1306.7" x2="480.7" y2="1263.3"/></g>
<g id="f18-mother"><circle class="o" cx="536" cy="1287.5" r="14.5"/><text class="g" y="1321.4"><tspan x="536">2 1</tspan><tspan x="536" dy="17.4">1 3</tspan><tspan x="536" dy="17.4">6 6</tspan><tspan x="536" dy="17.4">1 4</tspan></text></g>
<g id="f18-c1"><circle class="o" cx="401.7" cy="1411.7" r="14.5"/><text class="g" y="1451.4"><tspan x="401.7">1 2</tspan><tspan x="401.7" dy="17.2">3 1</tspan><tspan x="401.7" dy="17.2">6 6</tspan><tspan x="401.7" dy="17.2">4 1</tspan></text></g>
<g id="f18-c2"><rect class="o" x="437.3" y="1397.3" width="27" height="27"/><text class="g" y="1451.4"><tspan x="451.5">3 1</tspan><tspan x="451.5" dy="17.2">1 3</tspan><tspan x="451.5" dy="17.2">6 6</tspan><tspan x="451.5" dy="17.2">1 4</tspan></text></g>
<g id="f18-c3"><rect class="o" x="483.5" y="1397.3" width="27" height="27"/><text class="g" y="1451.4"><tspan x="497.5">1 2</tspan><tspan x="497.5" dy="17.2">3 1</tspan><tspan x="497.5" dy="17.2">6 6</tspan><tspan x="497.5" dy="17.2">4 1</tspan></text></g>
<g id="f18-c4"><rect class="o" x="533.5" y="1397.3" width="27" height="27"/><text class="g" y="1451.4"><tspan x="548">1 2</tspan><tspan x="548" dy="17.2">3 1</tspan><tspan x="548" dy="17.2">6 6</tspan><tspan x="548" dy="17.2">4 1</tspan></text></g>
<g id="f18-c5"><circle class="f" cx="595" cy="1411.7" r="14.5"/><text class="g" y="1451.4"><tspan x="596">1 1</tspan><tspan x="596" dy="17.2">3 3</tspan><tspan x="596" dy="17.2">6 6</tspan><tspan x="596" dy="17.2">4 4</tspan></text></g>

<!-- Family 19 -->
<g id="f19-father"><rect class="o" x="693" y="1274" width="27" height="27"/><text class="g" y="1320.5"><tspan x="706.7">1 2</tspan><tspan x="706.7" dy="17.9">5 2</tspan><tspan x="706.7" dy="17.9">6 3</tspan><tspan x="706.7" dy="17.9">4 4</tspan></text></g>
<g id="f19-mother"><circle class="o" cx="784.5" cy="1286.5" r="14.5"/><text class="g" y="1320.5"><tspan x="785">2 2</tspan><tspan x="785" dy="17.9">2 2</tspan><tspan x="785" dy="17.9">4 7</tspan><tspan x="785" dy="17.9">4 4</tspan></text></g>
<g id="f19-c1"><rect class="o" x="693.3" y="1397.3" width="27" height="27"/><text class="g" y="1450.5"><tspan x="707">2 2</tspan><tspan x="707" dy="17.8">2 2</tspan><tspan x="707" dy="17.8">3 4</tspan><tspan x="707" dy="17.8">4 4</tspan></text></g>
<g id="f19-c2"><circle class="f" cx="784.3" cy="1411" r="14.5"/><line class="ln" x1="760.7" y1="1432.7" x2="806.7" y2="1388.3"/><text class="g" y="1450.5"><tspan x="785">1 2</tspan><tspan x="785" dy="17.8">5 2</tspan><tspan x="785" dy="17.8">6 7</tspan><tspan x="785" dy="17.8">4 4</tspan></text></g>

<!-- Family 20 -->
<g id="f20-father"><rect class="o" x="903" y="1274" width="27" height="27"/><text class="g" y="1320.5"><tspan x="912">1 2</tspan><tspan x="912" dy="17.9">5 5</tspan><tspan x="912" dy="17.9">6 2</tspan><tspan x="912" dy="17.9">4 9</tspan></text></g>
<g id="f20-mother"><circle class="o" cx="996" cy="1286.5" r="14.5"/><text class="g" y="1320.5"><tspan x="993.5">2 1</tspan><tspan x="993.5" dy="17.9">5 5</tspan><tspan x="993.5" dy="17.9">3 6</tspan><tspan x="993.5" dy="17.9">1 4</tspan></text></g>
<g id="f20-c1"><rect class="f" x="903.5" y="1398.3" width="27" height="27"/><line class="ln" x1="893.3" y1="1435" x2="939.3" y2="1390"/><text class="g" y="1450.5"><tspan x="917">1 1</tspan><tspan x="917" dy="17.8">5 5</tspan><tspan x="917" dy="17.8">6 6</tspan><tspan x="917" dy="17.8">4 4</tspan></text></g>
<g id="f20-c2"><circle class="o" cx="995" cy="1411" r="14.5"/><text class="g" y="1450.5"><tspan x="995">2 1</tspan><tspan x="995" dy="17.8">5 5</tspan><tspan x="995" dy="17.8">2 6</tspan><tspan x="995" dy="17.8">9 4</tspan></text></g>
</svg>
